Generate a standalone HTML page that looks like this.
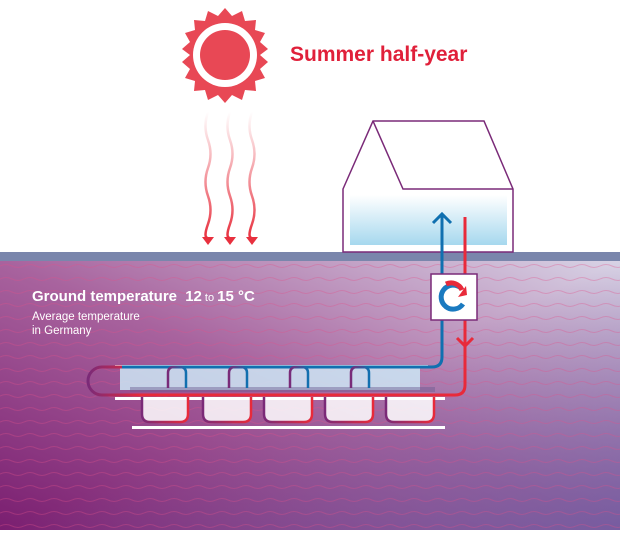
<!DOCTYPE html>
<html><head><style>body{margin:0;width:620px;height:530px;overflow:hidden;background:#fff}</style></head><body>
<svg width="620" height="530" viewBox="0 0 620 530" xmlns="http://www.w3.org/2000/svg">
<defs>
<linearGradient id="g1" x1="0" y1="1" x2="1" y2="0"><stop offset="0" stop-color="#7a1e70"/><stop offset="0.5" stop-color="#a8639e"/><stop offset="1" stop-color="#d8d4e6"/></linearGradient>
<linearGradient id="g2" x1="0" y1="0" x2="1" y2="1"><stop offset="0.5" stop-color="#7060a0" stop-opacity="0"/><stop offset="1" stop-color="#6a5aa0" stop-opacity="0.8"/></linearGradient>
<linearGradient id="hb" x1="0" y1="0" x2="0" y2="1"><stop offset="0" stop-color="#fff"/><stop offset="1" stop-color="#a6d8ee"/></linearGradient>
<linearGradient id="ray" x1="0" y1="0" x2="0" y2="1"><stop offset="0" stop-color="#e8404e" stop-opacity="0"/><stop offset="1" stop-color="#e8303e"/></linearGradient>
<linearGradient id="pipe" x1="0" y1="0" x2="1" y2="0"><stop offset="0" stop-color="#7a2a78"/><stop offset="1" stop-color="#e82a3a"/></linearGradient>
<linearGradient id="pipeb" x1="0" y1="0" x2="1" y2="0"><stop offset="0" stop-color="#7a2a78"/><stop offset="1" stop-color="#1070b0"/></linearGradient>
<pattern id="wv" width="24" height="13" patternUnits="userSpaceOnUse"><path d="M0 6 q6 -3 12 0 t12 0" fill="none" stroke="#e0508a" stroke-opacity="0.35" stroke-width="1"/></pattern>
</defs>
<rect x="0" y="260" width="620" height="270" fill="url(#g1)"/>
<rect x="0" y="260" width="620" height="270" fill="url(#g2)"/>
<rect x="0" y="262" width="620" height="268" fill="url(#wv)"/>
<rect x="0" y="252" width="620" height="9" fill="#7a86ac"/>
<!-- sun -->
<polygon fill="#e84855" points="225,8 232,16 242,11 245,21 256,20 255,30 265,33 260,42 268,49 260,55 268,62 260,69 265,78 255,81 256,91 245,90 242,100 232,95 225,103 218,95 208,100 205,90 194,91 195,81 185,78 190,69 182,62 190,55 182,49 190,42 185,33 195,30 194,20 205,21 208,11 218,16"/>
<circle cx="225" cy="55" r="32" fill="#fff"/>
<circle cx="225" cy="55" r="25" fill="#e84855"/>
<text x="290" y="61" font-family="Liberation Sans, sans-serif" font-weight="bold" font-size="21" fill="#e0203a">Summer half-year</text>
<!-- rays -->
<g fill="none" stroke="url(#ray)" stroke-width="2.5">
<path d="M208 112 q-5 14 0 28 t0 28 t0 28 t0 28 t0 14"/>
<path d="M230 112 q-5 14 0 28 t0 28 t0 28 t0 28 t0 14"/>
<path d="M252 112 q-5 14 0 28 t0 28 t0 28 t0 28 t0 14"/>
</g>
<g fill="#e8303e"><path d="M202 237 h12 l-6 8z"/><path d="M224 237 h12 l-6 8z"/><path d="M246 237 h12 l-6 8z"/></g>
<!-- house -->
<path d="M343 189 L373 121 L484 121 L513 189 L513 252 L343 252 Z" fill="#fff" stroke="#7a2a78" stroke-width="1.5"/>
<path d="M373 121 L403 189 L513 189" fill="none" stroke="#7a2a78" stroke-width="1.5"/>
<rect x="350" y="195" width="157" height="50" fill="url(#hb)"/>
<!-- collector base -->
<rect x="115" y="365" width="313" height="3" fill="#fff"/>
<rect x="120" y="368" width="300" height="22" fill="#cde8f6" fill-opacity="0.85"/>
<rect x="130" y="387" width="305" height="5" fill="#6a5a90" fill-opacity="0.45"/>
<rect x="115" y="397" width="330" height="3" fill="#fff"/>
<rect x="132" y="426" width="313" height="3" fill="#fff"/>
<g fill="#fff" fill-opacity="0.85" stroke="url(#pipe)" stroke-width="2.5">
<path d="M142 397 v17 q0 8 8 8 h30 q8 0 8 -8 v-17"/>
<path d="M203 397 v17 q0 8 8 8 h32 q8 0 8 -8 v-17"/>
<path d="M264 397 v17 q0 8 8 8 h32 q8 0 8 -8 v-17"/>
<path d="M325 397 v17 q0 8 8 8 h32 q8 0 8 -8 v-17"/>
<path d="M386 397 v17 q0 8 8 8 h32 q8 0 8 -8 v-17"/>
</g>
<!-- pipes -->
<path d="M442 215 V357 q0 10 -10 10 H120" fill="none" stroke="#1070b0" stroke-width="3"/>
<path d="M433 223 l9 -9 l9 9" fill="none" stroke="#1070b0" stroke-width="3"/>
<path d="M465 217 V385 q0 10 -10 10 H120" fill="none" stroke="#e82a3a" stroke-width="3"/>
<path d="M457 338 l8 8 l8 -8" fill="none" stroke="#e82a3a" stroke-width="3"/>
<path d="M122 367 H102 a14 14 0 0 0 0 28 H140" fill="none" stroke="url(#pipe)" stroke-width="3"/>
<g fill="none" stroke="url(#pipeb)" stroke-width="2.5">
<path d="M168 388 v-15 q0 -6 6 -6 h6 q6 0 6 6 v15"/>
<path d="M229 388 v-15 q0 -6 6 -6 h6 q6 0 6 6 v15"/>
<path d="M290 388 v-15 q0 -6 6 -6 h6 q6 0 6 6 v15"/>
<path d="M351 388 v-15 q0 -6 6 -6 h6 q6 0 6 6 v15"/>
<path d="M412 388 v-21"/>
</g>
<rect x="431" y="274" width="46" height="46" fill="#fff" stroke="#7a2a78" stroke-width="1.5"/>
<path d="M461 288 a12 12 0 1 0 2 16" fill="none" stroke="#1a7ac0" stroke-width="5"/>
<path d="M446 284 a12 12 0 0 1 16 6" fill="none" stroke="#e82a3a" stroke-width="5"/>
<path d="M458 297 l9 -2 l-1 -9 z" fill="#e82a3a"/>
<text x="32" y="301" font-family="Liberation Sans, sans-serif" font-weight="bold" font-size="15" fill="#fff">Ground temperature <tspan dx="4">12</tspan><tspan font-weight="normal" font-size="11"> to </tspan>15 °C</text>
<text x="32" y="320" font-family="Liberation Sans, sans-serif" font-size="11.5" fill="#fff">Average temperature</text>
<text x="32" y="334" font-family="Liberation Sans, sans-serif" font-size="11.5" fill="#fff">in Germany</text>
</svg>
</body></html>
